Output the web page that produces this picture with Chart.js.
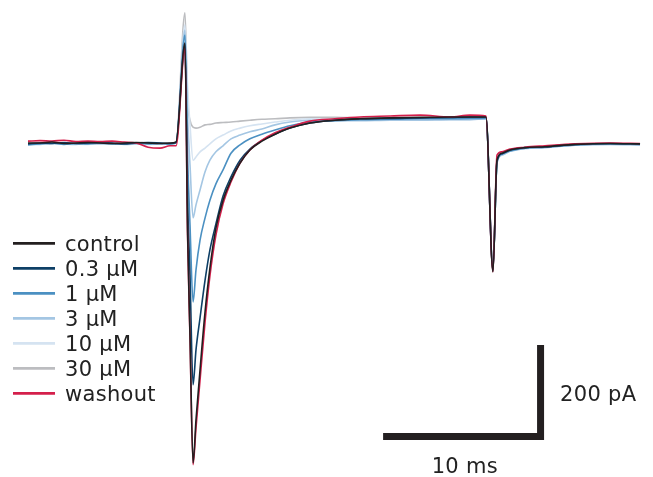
<!DOCTYPE html>
<html><head><meta charset="utf-8">
<script src="https://cdn.jsdelivr.net/npm/chart.js@4/dist/chart.umd.min.js"></script>
<style>html,body{margin:0;padding:0;background:#fff;}#wrap{width:653px;height:477px;}</style>
</head><body><div id="wrap"><canvas id="c" width="653" height="477"></canvas></div>
<script>
// time (ms) from start of the sweep
const timeMs = [0, 0.74, 1.48, 2.22, 2.96, 3.70, 4.44, 5.19, 5.93, 6.67, 7.41, 8.15, 8.77, 9.14,
  9.69, 9.85, 10.00, 10.19, 10.37, 10.62, 10.93, 11.23, 11.60, 12.04, 12.53, 13.09, 13.70, 14.44,
  15.25, 16.17, 17.41, 18.95, 20.49, 22.35, 24.20, 26.05, 27.28, 28.27, 28.70, 28.95, 29.26, 29.75,
  30.68, 31.91, 33.77, 35.93, 37.78];
// current (pA)
const control = [0, 0, 2, -1, 0, 1, 0, -1, 0, 1, 0, -1, 0, 2, 215, -191, -413, -688, -596, -488, -363, -269, -183, -123, -80, -43, -15, 4, 19, 32, 43, 49, 52, 54, 55, 56, 56, 56, -277, -37, -22, -15, -10, -8, -3, -1, -2];
const conc03 = [-2, 0, -1, 1, -1, 0, 1, 0, -2, 0, 1, 0, -1, 1, 211, -118, -284, -520, -445, -376, -295, -230, -174, -114, -73, -37, -13, 5, 19, 32, 43, 49, 52, 53, 54, 55, 56, 56, -275, -39, -23, -15, -10, -8, -3, -1, -2];
const conc1 = [-4, -2, 0, -3, -1, -2, 0, -2, -1, 0, -2, -1, -2, 0, 232, -26, -176, -342, -273, -209, -161, -123, -88, -58, -22, -4, 9, 19, 28, 37, 45, 48, 50, 51, 52, 52, 53, 53, -273, -41, -24, -17, -11, -9, -4, -2, -3];
const conc3 = [-2, -3, -1, -2, -3, -1, -2, -1, -3, -2, -1, -2, -1, 0, 243, 60, -47, -161, -133, -101, -62, -37, -19, -6, 9, 17, 24, 30, 39, 45, 49, 48, 48, 49, 49, 50, 50, 52, -269, -43, -26, -18, -12, -10, -5, -3, -4];
const conc10 = [-2, -1, -2, -1, -2, -3, -1, -2, -1, -2, -3, -2, -1, 0, 254, 123, 39, -37, -30, -19, -11, -2, 9, 17, 26, 32, 37, 41, 45, 49, 52, 51, 49, 49, 49, 50, 50, 52, -269, -43, -26, -18, -12, -10, -5, -3, -4];
const conc30 = [-1, 0, -1, 0, -1, 0, -1, 0, -1, 0, -1, 0, -1, 1, 280, 92, 49, 34, 32, 34, 39, 40, 43, 44, 45, 47, 49, 51, 52, 54, 55, 55, 54, 54, 54, 54, 55, 55, -273, -41, -24, -17, -11, -9, -4, -2, -3];
const washout = [4, 5, 4, 6, 3, 4, 3, 4, 2, 0, -9, -11, -6, -6, 204, -198, -419, -692, -613, -510, -385, -286, -198, -131, -84, -43, -15, 6, 22, 34, 47, 52, 56, 58, 60, 56, 60, 58, -277, -26, -19, -13, -9, -6, -2, 0, -1];

const seriesLabels = ['control', '0.3 µM', '1 µM', '3 µM', '10 µM', '30 µM', 'washout'];
const seriesValues = [control, conc03, conc1, conc3, conc10, conc30, washout];
const seriesColors = ['#231f20', '#0e3f66', '#4b90c2', '#a4c6e3', '#d5e3f1', '#bcbdc0', '#d41f4b'];
const drawOrder = [0, 2, 3, 4, 5, 6, 1];

// scale bar (10 ms / 200 pA), in data units
const scaleBarMs = [21.92, 31.64, 31.64];
const scaleBarPa = [-631.2, -631.2, -434.4];
const scaleBarLabels = ['10 ms', '200 pA'];

const FONT = '21px "DejaVu Sans", sans-serif';
const TEXT = '#222222';

const datasets = seriesLabels.map((lab, i) => ({
  label: lab,
  data: timeMs.map((t, k) => ({x: t, y: seriesValues[i][k]})),
  borderColor: seriesColors[i],
  borderWidth: 1.6,
  pointRadius: 0,
  cubicInterpolationMode: 'monotone',
  order: drawOrder[i],
  isTrace: true
}));
datasets.push({
  label: 'scale bar',
  data: scaleBarMs.map((t, k) => ({x: t, y: scaleBarPa[k]})),
  borderColor: '#231f20',
  borderWidth: 7,
  borderCapStyle: 'butt',
  borderJoinStyle: 'miter',
  pointRadius: 0,
  order: -1,
  isTrace: false
});

const overlay = {
  id: 'overlay',
  afterDraw(chart) {
    const ctx = chart.ctx;
    const xs = chart.scales.x, ys = chart.scales.y;
    ctx.save();
    ctx.font = FONT;
    ctx.fillStyle = TEXT;
    try { ctx.letterSpacing = '0.3px'; } catch (e) {}
    // legend
    const traces = chart.data.datasets.filter(d => d.isTrace);
    traces.forEach((d, i) => {
      const y = 243.3 + i * 25;
      ctx.strokeStyle = d.borderColor;
      ctx.lineWidth = 2.8;
      ctx.lineCap = 'butt';
      ctx.beginPath(); ctx.moveTo(13, y); ctx.lineTo(55, y); ctx.stroke();
      ctx.textAlign = 'left'; ctx.textBaseline = 'alphabetic';
      ctx.fillText(d.label, 65, y + 8);
    });
    // scale bar labels
    const hx0 = xs.getPixelForValue(scaleBarMs[0]);
    const hx1 = xs.getPixelForValue(scaleBarMs[1]);
    const hy = ys.getPixelForValue(scaleBarPa[0]);
    const vtop = ys.getPixelForValue(scaleBarPa[2]);
    ctx.textAlign = 'center';
    ctx.fillText(scaleBarLabels[0], (hx0 + hx1) / 2 + 3, hy + 36.5);
    ctx.textAlign = 'left';
    ctx.fillText(scaleBarLabels[1], hx1 + 19.5, (vtop + hy) / 2 + 10);
    ctx.restore();
  }
};

new Chart(document.getElementById('c'), {
  type: 'line',
  data: {datasets},
  options: {
    responsive: false,
    animation: false,
    devicePixelRatio: 1,
    layout: {padding: 0},
    plugins: {legend: {display: false}, tooltip: {enabled: false}},
    scales: {
      x: {type: 'linear', display: false, min: -1.728, max: 38.58},
      y: {type: 'linear', display: false, min: -718.3, max: 307.5}
    }
  },
  plugins: [overlay]
});
</script></body></html>
